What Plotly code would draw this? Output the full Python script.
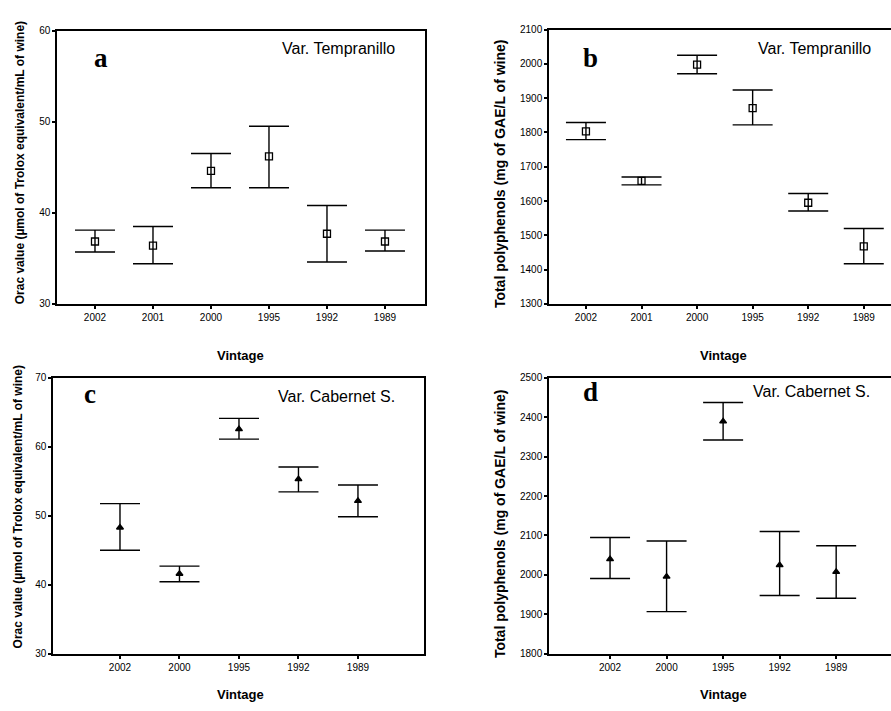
import plotly.graph_objects as go

W, H = 891, 711

# ---- data ----
vint_temp = ["2002", "2001", "2000", "1995", "1992", "1989"]
vint_cab = ["2002", "2000", "1995", "1992", "1989"]

orac_temp_mean = [36.85, 36.4, 44.6, 46.2, 37.7, 36.85]
orac_temp_up = [38.1, 38.5, 46.5, 49.5, 40.8, 38.1]
orac_temp_lo = [35.7, 34.4, 42.75, 42.75, 34.6, 35.8]

poly_temp_mean = [1803, 1659, 1998, 1871, 1595, 1468]
poly_temp_up = [1829, 1670, 2025, 1924, 1622, 1520]
poly_temp_lo = [1779, 1647, 1971, 1822, 1571, 1417]

orac_cab_mean = [48.3, 41.6, 62.55, 55.3, 52.15]
orac_cab_up = [51.75, 42.7, 64.1, 57.05, 54.45]
orac_cab_lo = [45.0, 40.45, 61.1, 53.45, 49.85]

poly_cab_mean = [2040, 1996, 2389, 2025, 2008]
poly_cab_up = [2095, 2086, 2437, 2110, 2074]
poly_cab_lo = [1991, 1907, 2342, 1948, 1941]

y_temp_orac_ticks = [30, 40, 50, 60]
y_temp_poly_ticks = list(range(1300, 2101, 100))
y_cab_orac_ticks = [30, 40, 50, 60, 70]
y_cab_poly_ticks = list(range(1800, 2501, 100))

ytitle_orac = "Orac value (µmol of Trolox equivalent/mL of wine)"
ytitle_poly = "Total polyphenols (mg of GAE/L of wine)"


def px_x(p):
    return p / W


def px_y(p):
    return 1 - p / H


panels = [
    dict(cats=vint_temp, m=orac_temp_mean, u=orac_temp_up, l=orac_temp_lo,
         sym="square-open", ms=7, xd=(57, 425), yd=(25, 303), xr=[-0.655, 5.69],
         yr=[30, 60], tv=y_temp_orac_ticks, letter="a", lpos=(101, 53),
         var="Var. Tempranillo", vpos=(397, 43), mirror=True,
         yt=ytitle_orac, ytsize=12, ytpos=(20, 160), vtpos=(240, 355)),
    dict(cats=vint_temp, m=poly_temp_mean, u=poly_temp_up, l=poly_temp_lo,
         sym="square-open", ms=7, xd=(549, 891), yd=(24, 303), xr=[-0.665, 5.49],
         yr=[1300, 2100], tv=y_temp_poly_ticks, letter="b", lpos=(590, 53),
         var="Var. Tempranillo", vpos=(873, 43), mirror=False,
         yt=ytitle_poly, ytsize=14, ytpos=(500, 171), vtpos=(723, 355)),
    dict(cats=vint_cab, m=orac_cab_mean, u=orac_cab_up, l=orac_cab_lo,
         sym="triangle-up", ms=6, xd=(53, 424), yd=(378, 659), xr=[-1.126, 5.11],
         yr=[30, 70], tv=y_cab_orac_ticks, letter="c", lpos=(90, 395),
         var="Var. Cabernet S.", vpos=(397, 397), mirror=True,
         yt=ytitle_orac, ytsize=12, ytpos=(18, 510), vtpos=(240, 700)),
    dict(cats=vint_cab, m=poly_cab_mean, u=poly_cab_up, l=poly_cab_lo,
         sym="triangle-up", ms=6, xd=(549, 891), yd=(378, 659), xr=[-1.08, 4.97],
         yr=[1800, 2500], tv=y_cab_poly_ticks, letter="d", lpos=(590, 393),
         var="Var. Cabernet S.", vpos=(872, 392), mirror=False,
         yt=ytitle_poly, ytsize=14, ytpos=(500, 527), vtpos=(723, 700)),
]

fig = go.Figure()
annotations = []
layout = {}
tickfont = dict(family="Liberation Sans, Arial", size=10, color="black")

for i, p in enumerate(panels, start=1):
    xa = "x" if i == 1 else f"x{i}"
    ya = "y" if i == 1 else f"y{i}"
    plus = [u - m for u, m in zip(p["u"], p["m"])]
    minus = [m - l for m, l in zip(p["m"], p["l"])]
    fig.add_trace(go.Scatter(
        x=p["cats"], y=p["m"], mode="markers", xaxis=xa, yaxis=ya,
        marker=dict(symbol=p["sym"], size=p["ms"], color="black",
                    line=dict(color="black", width=1.3)),
        error_y=dict(type="data", symmetric=False, array=plus, arrayminus=minus,
                     color="black", thickness=1.4, width=20),
        showlegend=False, hoverinfo="skip",
    ))
    xkey = "xaxis" if i == 1 else f"xaxis{i}"
    ykey = "yaxis" if i == 1 else f"yaxis{i}"
    layout[xkey] = dict(
        domain=[px_x(p["xd"][0]), px_x(p["xd"][1])], anchor=ya,
        type="category", categoryorder="array", categoryarray=p["cats"],
        range=p["xr"], showgrid=False, zeroline=False,
        showline=True, linecolor="black", linewidth=1.5, mirror=True,
        ticks="outside", ticklen=3, tickwidth=1.5, tickcolor="black",
        tickfont=tickfont, fixedrange=True,
    )
    layout[ykey] = dict(
        domain=[px_y(p["yd"][1]), px_y(p["yd"][0])], anchor=xa,
        range=p["yr"], tickvals=p["tv"], showgrid=False, zeroline=False,
        showline=True, linecolor="black", linewidth=1.5, mirror=p["mirror"],
        ticks="outside", ticklen=3, tickwidth=1.5, tickcolor="black",
        tickfont=tickfont, fixedrange=True,
    )
    annotations.append(dict(
        text=f"<b>{p['letter']}</b>", x=px_x(p["lpos"][0]), y=px_y(p["lpos"][1]),
        xref="paper", yref="paper", showarrow=False, xanchor="center", yanchor="middle",
        font=dict(family="Liberation Serif, Times New Roman", size=27, color="black"),
    ))
    annotations.append(dict(
        text=p["var"], x=px_x(p["vpos"][0]), y=px_y(p["vpos"][1]),
        xref="paper", yref="paper", showarrow=False, xanchor="right", yanchor="middle",
        font=dict(family="Liberation Sans, Arial", size=16, color="black"),
    ))
    annotations.append(dict(
        text=f"<b>{p['yt']}</b>", x=px_x(p["ytpos"][0]), y=px_y(p["ytpos"][1]),
        xref="paper", yref="paper", showarrow=False, xanchor="center", yanchor="middle",
        textangle=-90,
        font=dict(family="Liberation Sans, Arial", size=p["ytsize"], color="black"),
    ))
    annotations.append(dict(
        text="<b>Vintage</b>", x=px_x(p["vtpos"][0]), y=px_y(p["vtpos"][1]),
        xref="paper", yref="paper", showarrow=False, xanchor="center", yanchor="middle",
        font=dict(family="Liberation Sans, Arial", size=13, color="black"),
    ))

fig.update_layout(
    width=W, height=H, margin=dict(l=0, r=0, t=0, b=0),
    paper_bgcolor="white", plot_bgcolor="white", hovermode=False,
    annotations=annotations, **layout,
)

fig.write_html("out.html", config={"displayModeBar": False},
               post_script="document.body.style.margin='0';")
